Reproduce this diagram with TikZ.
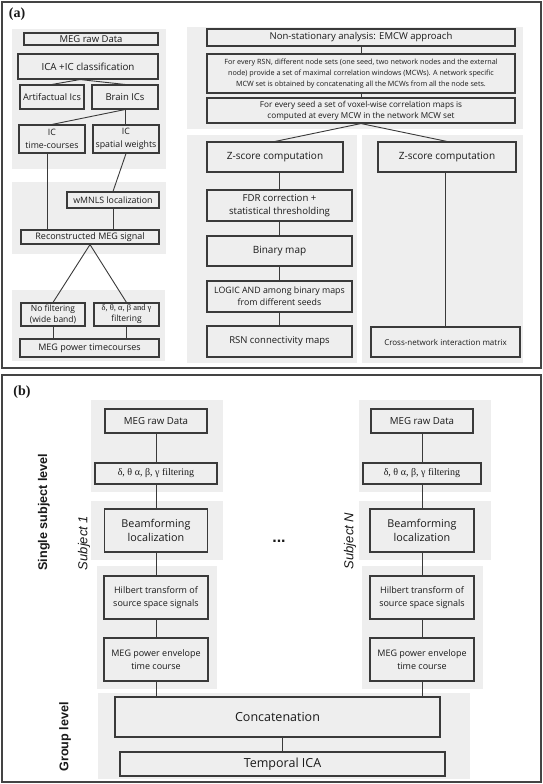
\documentclass[tikz,border=0pt]{standalone}
\usepackage{fontspec}
\setmainfont{Open Sans}
\newfontfamily\serifg{Liberation Serif}
\newfontfamily\arialf{Liberation Sans}
\usetikzlibrary{calc}
\definecolor{bgg}{HTML}{EEEEEE}
\definecolor{lc}{HTML}{3A3A3A}
\definecolor{fr}{HTML}{444444}
\definecolor{txt}{HTML}{1A1A1A}
\newcommand\fs[2]{\fontsize{#1}{#2}\selectfont}
\newcommand\mkbox[7][]{\node[box,minimum width={#5-#3},minimum height={#6-#4},#1] (#2) at ({(#3+#5)/2},{(#4+#6)/2}) {#7};}
\newcommand\bgr[4]{\fill[bgg] (#1,#2) rectangle (#3,#4);}
\tikzset{
  box/.style={draw=lc, line width=1.1pt, fill=bgg, inner sep=1pt, align=center, text=txt},
  conn/.style={draw=lc, line width=0.9pt},
  frame/.style={draw=fr, line width=1.8pt},
  plabel/.style={font=\serifg\bfseries\fs{14}{16}, text=txt},
  vlabel/.style={rotate=90, font=\arialf\bfseries\fs{12.6}{15}, text=txt},
  slabel/.style={rotate=90, font=\arialf\itshape\fs{13}{15}, text=txt}
}
\begin{document}
\begin{tikzpicture}[x=1pt,y=-1pt]
\fill[white] (0,0) rectangle (543,784);
\useasboundingbox (0,0) rectangle (543,784);
% frames
\draw[frame] (2,2) rectangle (541,368);
\draw[frame] (2,375) rectangle (541,782);
\node[plabel] (la) at (17,14) {(a)};
\node[plabel] (lb) at (22,392) {(b)};
% ---------- panel a, left
\bgr{12}{29}{166}{169}
\bgr{12}{182}{166}{254}
\bgr{12}{290}{165}{361}
\mkbox[font=\fs{9.5}{11}]{megA}{24}{33}{158}{45}{MEG raw Data}
\mkbox[font=\fs{9.8}{12}]{ica}{18}{54}{158}{79}{ICA +IC classification}
\mkbox[font=\fs{9.2}{11}]{art}{20}{85}{84}{109}{Artifactual Ics}
\mkbox[font=\fs{9.5}{11}]{brain}{92}{85}{158}{109}{Brain ICs}
\mkbox[font=\fs{8.8}{12.5}]{ictc}{19}{125}{85}{153}{IC\\time-courses}
\mkbox[font=\fs{8.8}{12.5}]{icsw}{93}{125}{159}{153}{IC\\spatial weights}
\mkbox[font=\fs{8.8}{11}]{wmnls}{67}{192}{159}{208}{wMNLS localization}
\mkbox[font=\fs{9}{11}]{recon}{21}{230}{159}{244}{Reconstructed MEG signal}
\mkbox[font=\fs{8.5}{11}]{nofilt}{21}{303}{85}{326}{No filtering\\(wide band)}
\mkbox[font=\fs{8.5}{11}]{dfilt}{94}{303}{159}{326}{{\serifg δ, θ, α, β and γ}\\filtering}
\mkbox[font=\fs{9}{11}]{power}{20}{339}{159}{357}{MEG power timecourses}
\draw[conn] ([xshift=-8pt]ica.south) -- (art.north);
\draw[conn] ([xshift=-8pt]ica.south) -- (brain.north);
\draw[conn] (brain.south) -- (ictc.north);
\draw[conn] (brain.south) -- (brain.south |- icsw.north);
\draw[conn] ([xshift=-5pt]ictc.south) -- ([xshift=-5pt]ictc.south |- recon.north);
\draw[conn] (icsw.south) -- (wmnls.north);
\draw[conn] (wmnls.south) -- (wmnls.south |- recon.north);
\draw[conn] (recon.south) -- (nofilt.north);
\draw[conn] (recon.south) -- (dfilt.north);
\draw[conn] (nofilt.south) -- (nofilt.south |- power.north);
\draw[conn] (dfilt.south) -- (dfilt.south |- power.north);
% ---------- panel a, right
\bgr{187}{27}{523}{129}
\bgr{187}{135}{357}{363}
\bgr{362}{135}{523}{363}
\mkbox[font=\fs{9.5}{11}]{nonst}{207}{29}{515}{46}{Non-stationary analysis: EMCW approach}
\mkbox[font=\fs{7.2}{11}]{rsn}{207}{54}{515}{93}{For every RSN, different node sets (one seed, two network nodes and the external\\node) provide a set of maximal correlation windows (MCWs). A network specific\\MCW set is obtained by concatenating all the MCWs from all the node sets.}
\mkbox[font=\fs{8.2}{11.3}]{seed}{207}{98}{515}{123}{For every seed a set of voxel-wise correlation maps is\\computed at every MCW in the network MCW set}
\mkbox[font=\fs{10}{12}]{zleft}{207}{142}{343}{172}{Z-score computation}
\mkbox[font=\fs{9.6}{13}]{fdr}{207}{190}{352}{221}{FDR correction +\\statistical thresholding}
\mkbox[font=\fs{10}{12}]{bin}{207}{236}{352}{266}{Binary map}
\mkbox[font=\fs{8.8}{12}]{logic}{207}{281}{352}{312}{LOGIC AND among binary maps\\from different seeds}
\mkbox[font=\fs{9.5}{12}]{rsnc}{207}{326}{352}{357}{RSN connectivity maps}
\mkbox[font=\fs{10}{12}]{zright}{378}{142}{516}{172}{Z-score computation}
\mkbox[font=\fs{8}{12}]{cross}{371}{327}{520}{357}{Cross-network interaction matrix}
\draw[conn] (nonst.south) -- (rsn.north);
\draw[conn] (rsn.south) -- (seed.north);
\draw[conn] (seed.south) -- (zleft.north);
\draw[conn] (seed.south) -- (zright.north);
\draw[conn] (fdr.north |- zleft.south) -- (fdr.north);
\draw[conn] (fdr.south) -- (bin.north);
\draw[conn] (bin.south) -- (logic.north);
\draw[conn] (logic.south) -- (rsnc.north);
\draw[conn] (cross.north |- zright.south) -- (cross.north);
% ---------- panel b
\node[vlabel] (ssl) at (44,512) {Single subject level};
\node[vlabel] (grl) at (65,737) {Group level};
\node[slabel] (s1) at (84,543) {Subject 1};
\node[slabel] (sN) at (350,541) {Subject N};
\node[font=\arialf\bfseries\fs{16}{18}, text=txt] (dots) at (279,541) {...};
% subject 1
\bgr{91}{400}{223}{492}
\bgr{91}{501}{223}{560}
\bgr{97}{566}{217}{689}
\mkbox[font=\fs{9.7}{12}]{meg1}{105}{409}{207}{433}{MEG raw Data}
\mkbox[font=\serifg\fs{10}{12}]{filt1}{95}{463}{217}{484}{δ, θ α, β, γ filtering}
\mkbox[font=\fs{10.8}{14.7}]{beam1}{104.5}{509}{207.5}{552}{Beamforming\\localization}
\mkbox[font=\fs{9}{12.3}]{hil1}{104}{576}{208}{619}{Hilbert transform of\\source space signals}
\mkbox[font=\fs{9}{12.3}]{env1}{104}{638}{208}{681}{MEG power envelope\\time course}
% subject N
\bgr{359}{400}{491}{492}
\bgr{359}{501}{491}{560}
\bgr{362}{566}{483}{689}
\mkbox[font=\fs{9.7}{12}]{megN}{371}{409}{473}{433}{MEG raw Data}
\mkbox[font=\serifg\fs{10}{12}]{filtN}{363}{463}{481}{484}{δ, θ α, β, γ filtering}
\mkbox[font=\fs{10.8}{14.7}]{beamN}{370}{509}{474}{552}{Beamforming\\localization}
\mkbox[font=\fs{9}{12.3}]{hilN}{370}{576}{474}{619}{Hilbert transform of\\source space signals}
\mkbox[font=\fs{9}{12.3}]{envN}{370}{638}{474}{681}{MEG power envelope\\time course}
% group
\bgr{98}{693}{470}{779}
\mkbox[font=\fs{12.5}{14}]{concat}{115}{697}{440}{737}{Concatenation}
\mkbox[font=\fs{12.5}{14}]{tica}{120}{752}{445}{776}{Temporal ICA}
\draw[conn] (meg1.south) -- (filt1.north);
\draw[conn] (filt1.south) -- (beam1.north);
\draw[conn] (beam1.south) -- (hil1.north);
\draw[conn] (hil1.south) -- (env1.north);
\draw[conn] (env1.south) -- (env1.south |- concat.north);
\draw[conn] (megN.south) -- (filtN.north);
\draw[conn] (filtN.south) -- (beamN.north);
\draw[conn] (beamN.south) -- (hilN.north);
\draw[conn] (hilN.south) -- (envN.north);
\draw[conn] (envN.south) -- (envN.south |- concat.north);
\draw[conn] (tica.north |- concat.south) -- (tica.north);
\end{tikzpicture}
\end{document}
